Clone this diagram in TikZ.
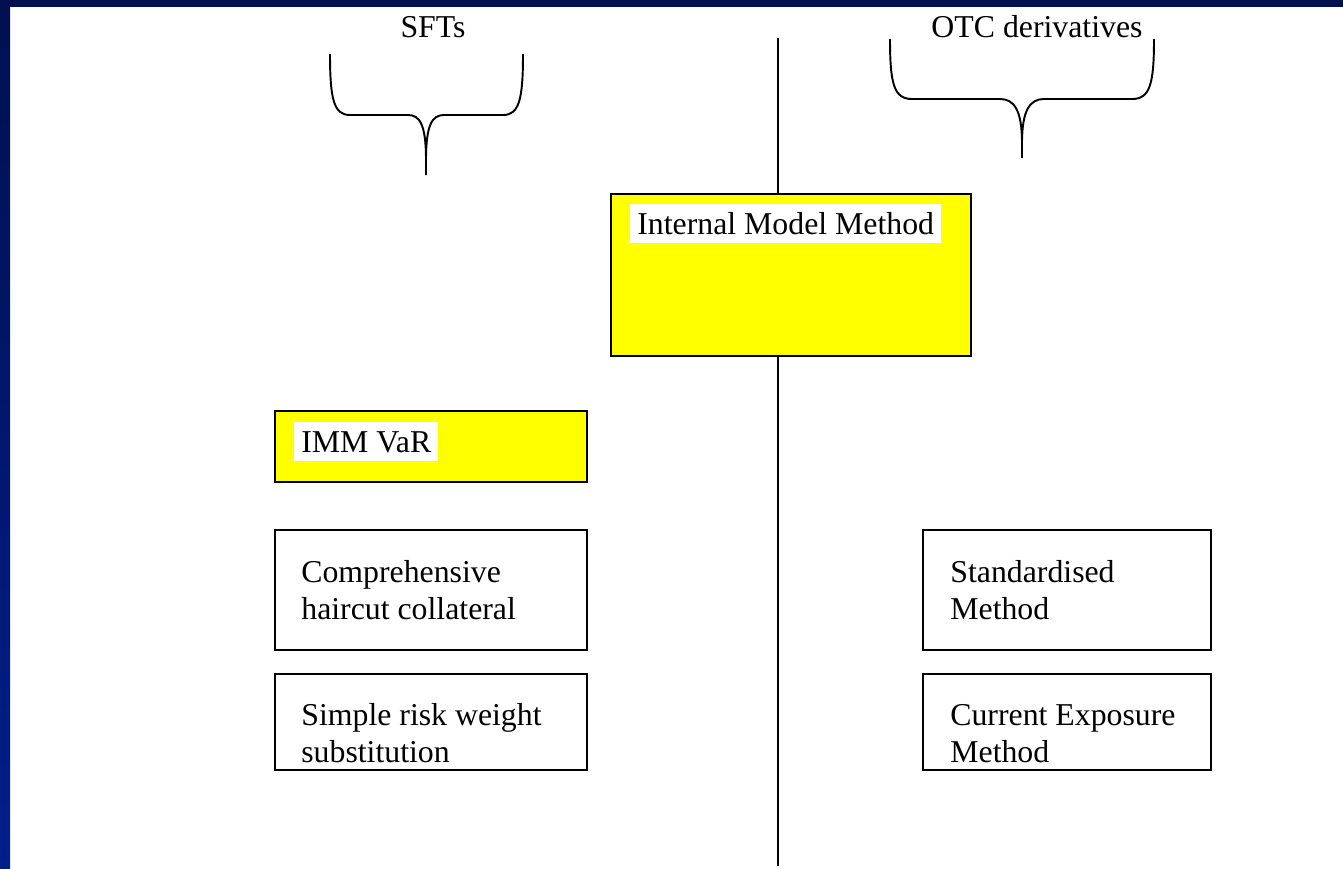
\documentclass[tikz,border=0pt]{standalone}
\usepackage{fontspec}
\setmainfont{Liberation Serif}
\usetikzlibrary{positioning}

\definecolor{frametop}{HTML}{00104F}
\definecolor{framebot}{HTML}{001E8C}
\definecolor{immyellow}{HTML}{FFFF00}

\tikzset{
    box/.style={draw=black, line width=1.1pt, anchor=north west, inner sep=0pt},
    hilite/.style={box, fill=immyellow},
    boxtext/.style={anchor=base west, inner sep=0pt, align=left},
    tagtext/.style={anchor=base west, fill=white, inner xsep=0.14cm, inner ysep=0pt,
        text height=0.6cm, text depth=0.18cm},
    brace/.style={line width=1.1pt}
}

\begin{document}
\begin{tikzpicture}[x=0.02cm, y=-0.02cm, font=\fontsize{18.1}{20.9}\selectfont]
        \useasboundingbox (0,0) rectangle (1343,869);

        % frame
        \fill[white] (0,0) rectangle (1343,869);
        \shade[top color=frametop, bottom color=framebot] (0,0) rectangle (10,869);
        \fill[frametop] (0,0) rectangle (1343,7);

        % headings
        \node[anchor=base] (sft) at (433,37) {SFTs};
        \node[anchor=base] (otc) at (1037,37) {OTC derivatives};

        % braces
        \draw[brace] (330,54) .. controls (330,100) and (334,115) .. (350,115) -- (408,115)
            .. controls (420,115) and (426,125) .. (426,160) -- (426,175);
        \draw[brace] (523,54) .. controls (523,100) and (519,115) .. (503,115) -- (444,115)
            .. controls (432,115) and (426,125) .. (426,160);
        \draw[brace] (890,39) .. controls (890,84) and (894,99) .. (912,99) -- (1000,99)
            .. controls (1014,99) and (1022,110) .. (1022,143) -- (1022,158);
        \draw[brace] (1154,39) .. controls (1154,84) and (1150,99) .. (1132,99) -- (1044,99)
            .. controls (1030,99) and (1022,110) .. (1022,143);

        % internal model method
        \node[hilite, minimum width=7.2cm, minimum height=3.24cm] (imm) at (610,193) {};
        \node[tagtext] (immlbl) at (630,234) {Internal Model Method};

        % divider
        \coordinate (divtop) at (778,38);
        \coordinate (divbot) at (778,866);
        \draw[line width=1.1pt] (divtop) -- (divtop |- imm.north);
        \draw[line width=1.1pt] (divbot |- imm.south) -- (divbot);

        % SFTs side
        \node[hilite, minimum width=6.24cm, minimum height=1.42cm] (var) at (274,410) {};
        \node[tagtext] (varlbl) at (294,452) {IMM VaR};

        \node[box, minimum width=6.24cm, minimum height=2.4cm] (comp) at (274,529) {};
        \node[boxtext] (complbl) at (301,619) {Comprehensive\\haircut collateral};

        \node[box, minimum width=6.24cm, minimum height=1.92cm] (simple) at (274,673) {};
        \node[boxtext] (simplelbl) at (301,762) {Simple risk weight\\substitution};

        % OTC side
        \node[box, minimum width=5.76cm, minimum height=2.4cm] (std) at (922,529) {};
        \node[boxtext] (stdlbl) at (950,619) {Standardised\\Method};

        \node[box, minimum width=5.76cm, minimum height=1.92cm] (cem) at (922,673) {};
        \node[boxtext] (cemlbl) at (950,762) {Current Exposure\\Method};
    \end{tikzpicture}
\end{document}
